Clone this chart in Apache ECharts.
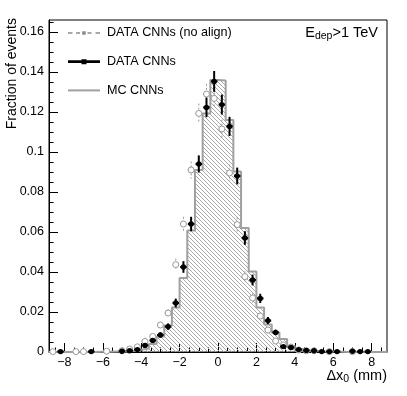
<!DOCTYPE html>
<html>
<head>
<meta charset="utf-8">
<script src="https://cdn.jsdelivr.net/npm/echarts@6/dist/echarts.min.js"></script>
<style>html,body{margin:0;padding:0;background:#fff;}#c{width:407px;height:396px;}</style>
</head>
<body>
<div id="c"></div>
<script>
// ---- data ----
const binCenters = [-8.6,-8.2,-7.8,-7.4,-7.0,-6.6,-6.2,-5.8,-5.4,-5.0,-4.6,-4.2,-3.8,-3.4,-3.0,-2.6,-2.2,-1.8,-1.4,-1.0,-0.6,-0.2,
                    0.2,0.6,1.0,1.4,1.8,2.2,2.6,3.0,3.4,3.8,4.2,4.6,5.0,5.4,5.8,6.2,6.6,7.0,7.4,7.8,8.2,8.6];
const binWidth = 0.4;
const mcValues = [0,0,0,0,0,0,0.0001,0.0001,0.0002,0.0003,0.0006,0.0011,0.0018,0.0040,0.0077,0.0132,0.0223,0.0370,0.0607,0.0910,0.1193,0.1360,
                  0.1358,0.1160,0.0903,0.0620,0.0403,0.0223,0.0137,0.0098,0.0065,0.0030,0.0015,0.0008,0.0005,0.0003,0.0002,0.0001,0,0,0,0,0,0];
const dataValues = [0,0.0002,0,0,0,0.0002,0,0,0,0.0004,0.0006,0.0012,0.0033,0.0058,0.0085,0.0127,0.0245,0.0425,0.0640,0.0940,0.1223,0.1353,
                    0.1237,0.1128,0.0880,0.0570,0.0360,0.0268,0.0157,0.0098,0.0027,0.0023,0.0012,0.0008,0.0006,0.0002,0.0002,0.0002,0,0.0004,0.0002,0.0002,0,0];
const dataErrors = [0,0.0002,0,0,0,0.0002,0,0,0,0.0003,0.0003,0.0005,0.0008,0.0011,0.0013,0.0016,0.0022,0.0029,0.0036,0.0043,0.0049,0.0052,
                    0.0050,0.0048,0.0042,0.0034,0.0027,0.0023,0.0018,0.0014,0.0007,0.0007,0.0005,0.0004,0.0003,0.0002,0.0002,0.0002,0,0.0003,0.0002,0.0002,0,0];
const noAlignValues = [0.0002,0,0,0.0002,0.0002,0,0,0.0004,0,0.0006,0.0015,0.0026,0.0053,0.0078,0.0135,0.0195,0.0437,0.0640,0.0910,0.1193,0.1290,0.1268,
                       0.1115,0.0895,0.0637,0.0377,0.0270,0.0180,0.0110,0.0055,0.0035,0.0025,0.0010,0.0006,0.0006,0,0.0002,0,0,0.0002,0,0,0,0];
const noAlignErrors = [0.0002,0,0,0.0002,0.0002,0,0,0.0003,0,0.0003,0.0005,0.0007,0.0010,0.0012,0.0016,0.0020,0.0030,0.0036,0.0043,0.0049,0.0051,0.0050,
                       0.0047,0.0042,0.0036,0.0027,0.0023,0.0019,0.0015,0.0010,0.0008,0.0007,0.0004,0.0003,0.0003,0,0.0002,0,0,0.0002,0,0,0,0];
const xTicks = [-8,-6,-4,-2,0,2,4,6,8];
const xMinorTicks = [-8.5,-7.5,-7,-6.5,-5.5,-5,-4.5,-3.5,-3,-2.5,-1.5,-1,-0.5,0.5,1,1.5,2.5,3,3.5,4.5,5,5.5,6.5,7,7.5,8.5];
const yTicks = [0,0.02,0.04,0.06,0.08,0.1,0.12,0.14,0.16];
const yMinorTicks = [0.005,0.01,0.015,0.025,0.03,0.035,0.045,0.05,0.055,0.065,0.07,0.075,0.085,0.09,0.095,
                     0.105,0.11,0.115,0.125,0.13,0.135,0.145,0.15,0.155,0.165];
const names = ['DATA CNNs (no align)','DATA CNNs','MC CNNs'];

// ---- styles ----
const FONT = "'Liberation Sans', Arial, Helvetica, sans-serif";
const xErrHalf = 0.17;

// hatch pattern
const pat = document.createElement('canvas');
pat.width = 4; pat.height = 4;
const pctx = pat.getContext('2d');
pctx.fillStyle = '#a8a8a8';
for (let i = 0; i < 4; i++) pctx.fillRect(i, i, 1, 1);

// MC histogram outline points (left edges + final right edge)
const mcLine = binCenters.map((c, i) => [c - binWidth / 2, mcValues[i]]);
mcLine.push([binCenters[binCenters.length - 1] + binWidth / 2, mcValues[mcValues.length - 1]]);

function pointsData(vals, errs) {
  return binCenters.map((c, i) => [c, vals[i], errs[i]]).filter(d => d[1] > 0);
}

function makeRender(opts) {
  return function (params, api) {
    const x = api.value(0), y = api.value(1), e = api.value(2);
    const p = api.coord([x, y]);
    const t = api.coord([x, y + e]);
    const b = api.coord([x, y - e]);
    const l = api.coord([x - xErrHalf, y]);
    const r = api.coord([x + xErrHalf, y]);
    const ls = {stroke: opts.color, lineWidth: opts.barWidth, lineDash: opts.dash || null};
    return {
      type: 'group',
      children: [
        {type: 'line', shape: {x1: p[0], y1: t[1], x2: p[0], y2: b[1]}, style: ls},
        {type: 'line', shape: {x1: l[0], y1: p[1], x2: r[0], y2: p[1]}, style: ls},
        {type: 'circle', shape: {cx: p[0], cy: p[1], r: opts.r},
         style: {fill: opts.fill, stroke: opts.stroke, lineWidth: opts.strokeWidth}}
      ]
    };
  };
}

const chart = echarts.init(document.getElementById('c'), null, {renderer: 'canvas'});
const tickLine = {color: '#000', width: 1};
const option = {
  animation: false,
  backgroundColor: '#fff',
  grid: {left: 49, right: 20, top: 20, bottom: 44, show: true, borderColor: '#000', borderWidth: 1, backgroundColor: 'transparent'},
  xAxis: [
    {type: 'value', min: -8.8, max: 8.8,
     axisLine: {show: true, onZero: false, lineStyle: tickLine},
     axisTick: {show: true, inside: true, length: 9, customValues: xTicks, lineStyle: tickLine},
     axisLabel: {customValues: xTicks, margin: 4, color: '#000', fontSize: 12.5, fontFamily: FONT,
                 formatter: v => (v < 0 ? '\u2212' + Math.abs(v) : String(v))},
     splitLine: {show: false}},
    {type: 'value', min: -8.8, max: 8.8, position: 'bottom',
     axisLine: {show: false, onZero: false},
     axisTick: {show: true, inside: true, length: 4.5, customValues: xMinorTicks, lineStyle: tickLine},
     axisLabel: {show: false}, splitLine: {show: false}}
  ],
  yAxis: [
    {type: 'value', min: 0, max: 0.166,
     axisLine: {show: true, onZero: false, lineStyle: tickLine},
     axisTick: {show: true, inside: true, length: 9, customValues: yTicks, lineStyle: tickLine},
     axisLabel: {customValues: yTicks, margin: 5, color: '#000', fontSize: 12.5, fontFamily: FONT},
     splitLine: {show: false}},
    {type: 'value', min: 0, max: 0.166, position: 'left',
     axisLine: {show: false, onZero: false},
     axisTick: {show: true, inside: true, length: 4.5, customValues: yMinorTicks, lineStyle: tickLine},
     axisLabel: {show: false}, splitLine: {show: false}}
  ],
  legend: {
    orient: 'vertical', left: 68, top: 26, padding: 0, itemGap: 14.7,
    itemWidth: 32, itemHeight: 6, symbolKeepAspect: true, selectedMode: false,
    textStyle: {fontSize: 12.6, fontFamily: FONT, color: '#000', lineHeight: 14, padding: [0, 0, 0, 2]},
    data: [
      {name: names[0], icon: 'path://M0,1 h4.5 v1.5 h-4.5 Z M8,1 h4 v1.5 h-4 Z M14.25,0 h3.5 v3.5 h-3.5 Z M19.5,1 h4 v1.5 h-4 Z M27.5,1 h4.5 v1.5 h-4.5 Z',
       itemStyle: {color: '#8c8c8c', borderWidth: 0}},
      {name: names[1], icon: 'path://M0,1.1 h32 v2.8 h-32 Z M13.5,0 h5 v5 h-5 Z',
       itemStyle: {color: '#000', borderWidth: 0}},
      {name: names[2], icon: 'path://M0,0 h32 v2 h-32 Z',
       itemStyle: {color: '#a0a0a0', borderWidth: 0}}
    ]
  },
  series: [
    {name: names[2], type: 'line', step: 'end', data: mcLine, symbol: 'none', z: 1,
     lineStyle: {color: '#a0a0a0', width: 2}, itemStyle: {color: '#a0a0a0'},
     areaStyle: {color: {image: pat, repeat: 'repeat'}, opacity: 1}},
    {name: names[0], type: 'custom', z: 2, data: pointsData(noAlignValues, noAlignErrors),
     itemStyle: {color: '#8c8c8c'},
     renderItem: makeRender({color: '#999', barWidth: 1, dash: [2, 2], r: 3, fill: '#fff', stroke: '#999', strokeWidth: 1})},
    {name: names[1], type: 'custom', z: 3, data: pointsData(dataValues, dataErrors),
     itemStyle: {color: '#000'},
     renderItem: makeRender({color: '#000', barWidth: 2, r: 2.7, fill: '#000', stroke: '#000', strokeWidth: 0})}
  ],
  graphic: [
    {type: 'text', x: 378, y: 25, z: 10,
     style: {text: '{n|E}{s|dep}{n|>1 TeV}', textAlign: 'right', textVerticalAlign: 'top', fill: '#000',
             rich: {n: {fontSize: 14.5, fontFamily: FONT, lineHeight: 17, verticalAlign: 'top'},
                    s: {fontSize: 10.5, fontFamily: FONT, lineHeight: 12, padding: [7, 0, 0, 0], verticalAlign: 'bottom'}}}},
    {type: 'text', x: 387, y: 368, z: 10,
     style: {text: '{n|\u0394x}{s|0}{n| (mm)}', textAlign: 'right', textVerticalAlign: 'top', fill: '#000',
             rich: {n: {fontSize: 14.5, fontFamily: FONT, lineHeight: 17, verticalAlign: 'top'},
                    s: {fontSize: 10.5, fontFamily: FONT, lineHeight: 12, padding: [7, 0, 0, 0], verticalAlign: 'bottom'}}}},
    {type: 'text', x: 12.5, y: 18, rotation: Math.PI / 2, z: 10,
     style: {text: 'Fraction of events', textAlign: 'right', textVerticalAlign: 'middle', fill: '#000',
             fontSize: 14, fontFamily: FONT}}
  ]
};
chart.setOption(option);
</script>
</body>
</html>
